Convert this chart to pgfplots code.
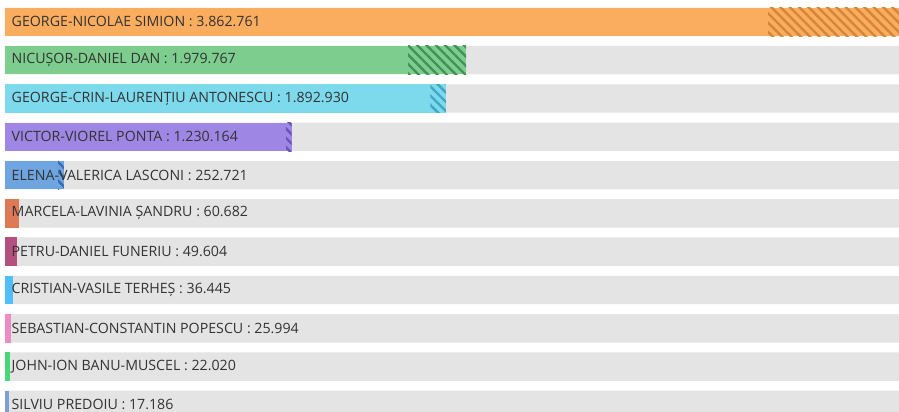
\documentclass[border=0pt]{standalone}
\usepackage{fontspec}
\setmainfont{Open Sans}
\usepackage{pgfplots}
\pgfplotsset{compat=1.18}
\usepackage{pgfplotstable}
\usetikzlibrary{patterns.meta}

\definecolor{track}{RGB}{228,228,228}
\definecolor{txt}{RGB}{51,51,51}
\definecolor{cSimion}{RGB}{251,173,95}   \definecolor{hSimion}{RGB}{214,134,58}
\definecolor{cDan}{RGB}{125,206,142}     \definecolor{hDan}{RGB}{66,146,88}
\definecolor{cAnto}{RGB}{125,218,236}    \definecolor{hAnto}{RGB}{66,166,198}
\definecolor{cPonta}{RGB}{158,135,228}   \definecolor{hPonta}{RGB}{104,84,186}
\definecolor{cLasc}{RGB}{110,165,225}    \definecolor{hLasc}{RGB}{58,108,178}
\definecolor{cSandru}{RGB}{222,120,85}
\definecolor{cFuneriu}{RGB}{180,80,125}
\definecolor{cTerhes}{RGB}{80,190,250}
\definecolor{cPopescu}{RGB}{235,140,195}
\definecolor{cBanu}{RGB}{70,215,120}
\definecolor{cPredoiu}{RGB}{125,160,205}

% label anchors (x = 0, row), and the label text
\pgfplotstableread[col sep=comma]{
x,y,label
0,0,GEORGE-NICOLAE SIMION : 3.862.761
0,1,NICUȘOR-DANIEL DAN : 1.979.767
0,2,GEORGE-CRIN-LAURENȚIU ANTONESCU : 1.892.930
0,3,VICTOR-VIOREL PONTA : 1.230.164
0,4,ELENA-VALERICA LASCONI : 252.721
0,5,MARCELA-LAVINIA ȘANDRU : 60.682
0,6,PETRU-DANIEL FUNERIU : 49.604
0,7,CRISTIAN-VASILE TERHEȘ : 36.445
0,8,SEBASTIAN-CONSTANTIN POPESCU : 25.994
0,9,JOHN-ION BANU-MUSCEL : 22.020
0,10,SILVIU PREDOIU : 17.186
}\labels

\pgfplotsset{
  rowaxis/.style={
    scale only axis,
    at={(0,0)}, anchor=south west,
    width=899pt, height=412pt,
    axis line style={draw=none},
    ticks=none,
    xmin=-21468, xmax=3838557,
    ymin=-0.5718, ymax=10.1854,
    y dir=reverse,
    bar width=0.744,
  },
  hatch/.style 2 args={fill=#1, draw=none,
    postaction={pattern={Lines[angle=-45,distance=6.6pt,line width=2.4pt]}, pattern color=#2}},
}

\begin{document}
\begin{tikzpicture}
% grey tracks and the small candidates
\begin{axis}[rowaxis, bar shift=0pt]
\addplot[xbar, fill=track, draw=none] coordinates {
  (5000000,0) (5000000,1) (5000000,2) (5000000,3) (5000000,4) (5000000,5)
  (5000000,6) (5000000,7) (5000000,8) (5000000,9) (5000000,10)};
\addplot[xbar, fill=cSandru, draw=none]   coordinates {(60682,5)};
\addplot[xbar, fill=cFuneriu, draw=none]  coordinates {(49604,6)};
\addplot[xbar, fill=cTerhes, draw=none]   coordinates {(36445,7)};
\addplot[xbar, fill=cPopescu, draw=none]  coordinates {(25994,8)};
\addplot[xbar, fill=cBanu, draw=none]     coordinates {(22020,9)};
\addplot[xbar, fill=cPredoiu, draw=none]  coordinates {(17186,10)};
\end{axis}

% top five: plain part, then hatched part stacked on it
\begin{axis}[rowaxis, xbar stacked]
\addplot[fill=cSimion, draw=none]   coordinates {(3275761,0) (0,1) (0,2) (0,3) (0,4)};
\addplot[hatch={cSimion}{hSimion}]  coordinates {(587000,0) (0,1) (0,2) (0,3) (0,4)};
\addplot[fill=cDan, draw=none]      coordinates {(0,0) (1729767,1) (0,2) (0,3) (0,4)};
\addplot[hatch={cDan}{hDan}]        coordinates {(0,0) (250000,1) (0,2) (0,3) (0,4)};
\addplot[fill=cAnto, draw=none]     coordinates {(0,0) (0,1) (1826930,2) (0,3) (0,4)};
\addplot[hatch={cAnto}{hAnto}]      coordinates {(0,0) (0,1) (66000,2) (0,3) (0,4)};
\addplot[fill=cPonta, draw=none]    coordinates {(0,0) (0,1) (0,2) (1205164,3) (0,4)};
\addplot[hatch={cPonta}{hPonta}]    coordinates {(0,0) (0,1) (0,2) (25000,3) (0,4)};
\addplot[fill=cLasc, draw=none]     coordinates {(0,0) (0,1) (0,2) (0,3) (227721,4)};
\addplot[hatch={cLasc}{hLasc}]      coordinates {(0,0) (0,1) (0,2) (0,3) (25000,4)};
\end{axis}

% labels
\begin{axis}[rowaxis]
\addplot[only marks, mark=none, nodes near coords, point meta=explicit symbolic,
  every node near coord/.append style={anchor=west, xshift=6.5pt, inner sep=0pt,
    text=txt, font=\fontsize{14.2}{16}\selectfont}]
  table[x=x, y=y, meta=label] {\labels};
\end{axis}
\end{tikzpicture}
\end{document}
